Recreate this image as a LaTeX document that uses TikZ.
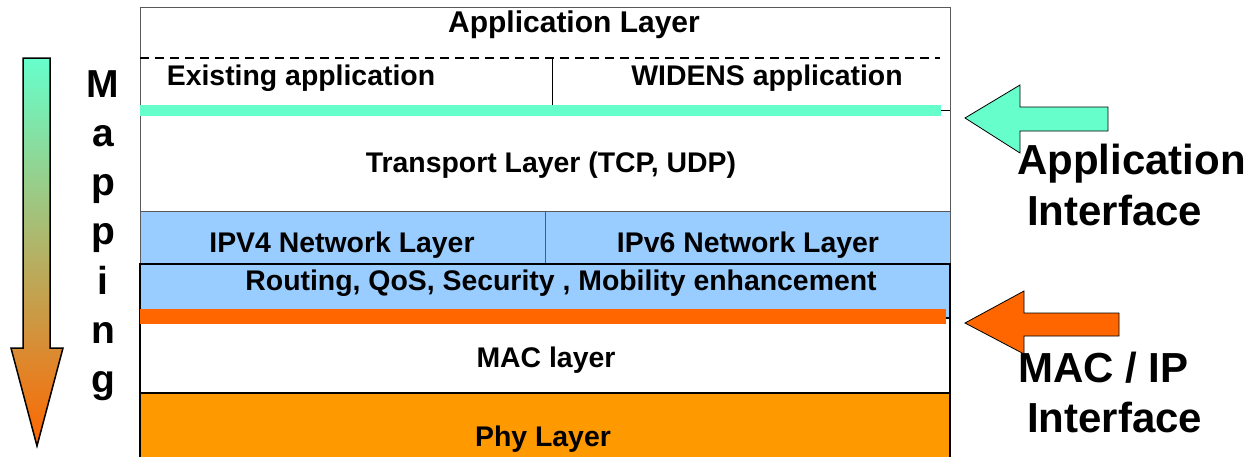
\documentclass[tikz,border=0pt]{standalone}
\usepackage{fontspec}
\setmainfont{Liberation Sans}
\definecolor{appteal}{HTML}{66FFCC}
\definecolor{netblue}{HTML}{99CCFF}
\definecolor{macorange}{HTML}{FF6600}
\definecolor{phyorange}{HTML}{FF9900}

\begin{document}
\begin{tikzpicture}[x=1pt,y=-1pt,
  lbl/.style={inner sep=0pt,anchor=base,font=\fontsize{28.4}{34}\selectfont\bfseries},
  side/.style={inner sep=0pt,anchor=base west,font=\fontsize{42}{50}\selectfont\bfseries},
  thinbox/.style={draw=black!65,line width=1pt},
  thickbox/.style={draw=black,line width=2pt}]
	\useasboundingbox (0,0) rectangle (1251,456);

	% upper part of the stack
	\fill[netblue] (140,211) rectangle (950,264);
	\draw[thinbox] (140,7) rectangle (950,264);
	\draw[thinbox] (140,211) -- (950,211);
	\draw[thinbox] (545,211) -- (545,264);
	\draw[line width=1.5pt,dash pattern=on 9pt off 6pt] (140,58) -- (940,58);
	\draw[line width=1pt] (552,58) -- (552,110);
	\draw[line width=1pt] (140,110) -- (950,110);
	\draw[appteal,line width=11pt] (140,110) -- (941,110);

	% lower part of the stack
	\draw[thickbox,fill=netblue] (140,264) rectangle (950,318);
	\draw[thickbox,fill=white] (140,318) rectangle (950,393);
	\draw[thickbox,fill=phyorange] (140,393) rectangle (950,470);
	\draw[macorange,line width=15pt] (140,316.5) -- (946,316.5);

	\node[lbl,font=\fontsize{30}{36}\selectfont\bfseries] (app) at (574,32) {Application Layer};
	\node[lbl] (exist) at (301,85) {Existing application};
	\node[lbl] (widens) at (767,85) {WIDENS application};
	\node[lbl] (trans) at (551,172) {Transport Layer (TCP, UDP)};
	\node[lbl] (ipv4) at (342,252) {IPV4 Network Layer};
	\node[lbl] (ipv6) at (748,252) {IPv6 Network Layer};
	\node[lbl] (route) at (561,290) {Routing, QoS, Security , Mobility enhancement};
	\node[lbl] (mac) at (546,367) {MAC layer};
	\node[lbl] (phy) at (543,446) {Phy Layer};

	% mapping arrow
	\path[draw,line width=1.5pt,top color=appteal,bottom color=macorange]
		(23,58) -- (50,58) -- (50,348) -- (63,348) -- (37,446) -- (11,348) -- (23,348) -- cycle;
	\foreach \ch [count=\i] in {M,a,p,p,i,n,g}
		\node[inner sep=0pt,anchor=base,font=\fontsize{39}{47}\selectfont\bfseries] (map\i) at (103,{97+49.3*(\i-1)}) {\ch};

	% interface arrows
	\draw[line width=0.8pt,fill=appteal] (965,118) -- (1020,85) -- (1020,107) -- (1108,107)
		-- (1108,131) -- (1020,131) -- (1020,153) -- cycle;
	\draw[line width=0.8pt,fill=macorange] (965,323) -- (1024,291) -- (1024,313) -- (1119,313)
		-- (1119,336) -- (1024,336) -- (1024,354) -- cycle;

	\node[side] (appif) at (1017,174) {Application};
	\node[side] (appif2) at (1027,225) {Interface};
	\node[side] (macif) at (1018,382) {MAC / IP};
	\node[side] (macif2) at (1027,432) {Interface};
\end{tikzpicture}
\end{document}
